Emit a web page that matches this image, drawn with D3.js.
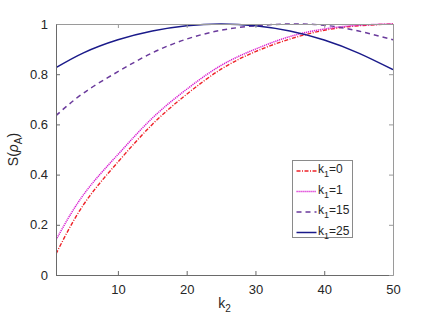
<!DOCTYPE html>
<html>
<head>
<meta charset="utf-8">
<script src="https://cdn.jsdelivr.net/npm/d3@7"></script>
<style>
  body { margin: 0; background: #fff; }
  text { font-family: "Liberation Sans", Arial, sans-serif; fill: #262626; }
</style>
</head>
<body>
<div id="chart"></div>
<script>
// data
const k2 = [1, 5, 10, 15, 20, 25, 30, 35, 40, 45, 50];
const s_k1_0  = [0.084, 0.28, 0.45, 0.60, 0.72, 0.82, 0.89, 0.94, 0.975, 0.993, 1.0];
const s_k1_1  = [0.14, 0.32, 0.48, 0.625, 0.74, 0.835, 0.90, 0.95, 0.98, 0.995, 1.0];
const s_k1_15 = [0.635, 0.725, 0.81, 0.885, 0.94, 0.975, 0.993, 1.0, 0.995, 0.972, 0.937];
const s_k1_25 = [0.826, 0.885, 0.937, 0.972, 0.993, 1.0, 0.993, 0.972, 0.936, 0.884, 0.818];
const xTicks = [10, 20, 30, 40, 50];
const yTicks = [0, 0.2, 0.4, 0.6, 0.8, 1];

const series = [
  {k1: "0",  values: s_k1_0,  color: "#ee2228", dash: "4,1.5,1,1.5", width: 1.4},
  {k1: "1",  values: s_k1_1,  color: "#d81ed0", dash: "1.2,0.8",     width: 1.5},
  {k1: "15", values: s_k1_15, color: "#6a3a9c", dash: "5,4",         width: 1.5},
  {k1: "25", values: s_k1_25, color: "#1a1a8a", dash: null,          width: 1.5}
];

const W = 434, H = 319;
const margin = {top: 24, right: 41, bottom: 44, left: 56},
    width = W - margin.left - margin.right,
    height = H - margin.top - margin.bottom;

const svg = d3.select("#chart")
    .append("svg")
    .attr("width", W)
    .attr("height", H)
    .append("g")
    .attr("transform", `translate(${margin.left}, ${margin.top})`);

const x = d3.scaleLinear().domain([1, 50]).range([0, width]);
const y = d3.scaleLinear().domain([0, 1]).range([height, 0]);

// curves
const line = d3.line()
    .x(function(d, i) { return x(k2[i]); })
    .y(function(d) { return y(d); })
    .curve(d3.curveNatural);

svg.append("defs").append("clipPath")
    .attr("id", "clip")
    .append("rect")
    .attr("x", 0).attr("y", -1)
    .attr("width", width).attr("height", height + 1);

svg.append("g")
    .attr("clip-path", "url(#clip)")
    .selectAll("path")
    .data(series)
    .join("path")
    .attr("fill", "none")
    .attr("stroke", function(d) { return d.color; })
    .attr("stroke-width", function(d) { return d.width; })
    .attr("stroke-dasharray", function(d) { return d.dash; })
    .attr("d", function(d) { return line(d.values); });

// axes, matlab box style with inward ticks
const tickLen = 4;
const bottomAxis = svg.append("g")
    .attr("transform", `translate(0, ${height})`)
    .call(d3.axisBottom(x).tickValues(xTicks).tickSize(-tickLen).tickPadding(10).tickSizeOuter(0));
const leftAxis = svg.append("g")
    .call(d3.axisLeft(y).tickValues(yTicks).tickFormat(d3.format("")).tickSize(-tickLen).tickPadding(8).tickSizeOuter(0));
const topAxis = svg.append("g")
    .call(d3.axisTop(x).tickValues(xTicks).tickSize(-tickLen).tickFormat("").tickSizeOuter(0));
const rightAxis = svg.append("g")
    .attr("transform", `translate(${width}, 0)`)
    .call(d3.axisRight(y).tickValues(yTicks).tickSize(-tickLen).tickFormat("").tickSizeOuter(0));

[bottomAxis, leftAxis].forEach(function(a) {
  a.selectAll("path, line").attr("stroke", "#6a6a6a");
  a.selectAll("text").style("font-size", "13px").attr("fill", "#262626");
});
[topAxis, rightAxis].forEach(function(a) {
  a.selectAll("path, line").attr("stroke", "#9a9a9a");
});

// axis labels
const xl = svg.append("text")
    .attr("x", x(25.5))
    .attr("y", height + 33)
    .attr("text-anchor", "middle")
    .style("font-size", "14px");
xl.append("tspan").text("k");
xl.append("tspan").attr("dy", 4).style("font-size", "10px").text("2");

const yl = svg.append("text")
    .attr("transform", `translate(-38, ${height / 2}) rotate(-90)`)
    .attr("text-anchor", "middle")
    .style("font-size", "14px");
yl.append("tspan").text("S(");
yl.append("tspan").style("font-style", "italic").text("ρ");
yl.append("tspan").attr("dy", 4).style("font-size", "10px").text("A");
yl.append("tspan").attr("dy", -4).text(")");

// legend
const lg = svg.append("g")
    .attr("transform", `translate(${292.5 - margin.left}, ${160.5 - margin.top})`);
lg.append("rect")
    .attr("width", 60).attr("height", 77)
    .attr("fill", "#fff")
    .attr("stroke", "#8a8a8a");

const rows = lg.selectAll("g.row")
    .data(series)
    .join("g")
    .attr("class", "row")
    .attr("transform", function(d, i) { return `translate(0, ${10.5 + i * 20.5})`; });

rows.append("line")
    .attr("x1", 4).attr("x2", 24)
    .attr("stroke", function(d) { return d.color; })
    .attr("stroke-width", function(d) { return d.width; })
    .attr("stroke-dasharray", function(d) { return d.dash; });

const lt = rows.append("text")
    .attr("x", 25.5)
    .attr("y", 2)
    .style("font-size", "12px");
lt.append("tspan").text("k");
lt.append("tspan").attr("dy", 4).style("font-size", "9px").text("1");
lt.append("tspan").attr("dy", -4).text(function(d) { return "=" + d.k1; });
</script>
</body>
</html>
